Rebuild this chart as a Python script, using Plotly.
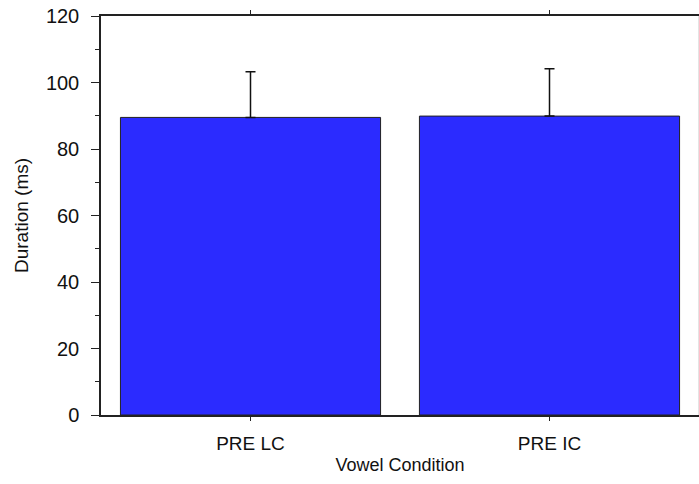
import plotly.graph_objects as go

# 数据
conditions = ["PRE LC", "PRE IC"]
duration_ms = [89.5, 89.9]
err_upper = [13.7, 14.2]
err_lower = [0, 0]

y_ticks = [0, 20, 40, 60, 80, 100, 120]

fig = go.Figure()

fig.add_trace(go.Bar(
    x=conditions, y=duration_ms,
    marker=dict(color="#2b2bff", line=dict(color="#222222", width=1)),
    error_y=dict(type="data", symmetric=False,
                 array=err_upper, arrayminus=err_lower,
                 color="#111111", thickness=1.5, width=5),
    hovertemplate="%{x}<br>%{y:.1f} ms<extra></extra>",
))

# 右侧灰色边框
fig.add_shape(type="line", xref="paper", yref="paper",
              x0=1, x1=1, y0=0, y1=1,
              line=dict(color="#c8c8c8", width=1))

font = dict(family="Arial, Liberation Sans, sans-serif", size=20, color="#111111")

fig.update_layout(
    width=699, height=484,
    margin=dict(l=101, r=0, t=16, b=69),
    plot_bgcolor="white", paper_bgcolor="white",
    bargap=0.13, showlegend=False,
    font=font,
)
fig.update_xaxes(
    showline=True, linecolor="#222222", linewidth=1.5,
    mirror="ticks", ticks="outside", ticklen=4, tickcolor="#222222",
    showgrid=False,
    tickfont=dict(size=19), ticklabelstandoff=6,
    title=dict(text="Vowel Condition", font=dict(size=18), standoff=6),
)
fig.update_yaxes(
    range=[0, 120], tickvals=y_ticks,
    showline=True, linecolor="#222222", linewidth=1.5,
    ticks="outside", ticklen=8, tickcolor="#222222",
    minor=dict(ticks="outside", ticklen=4, dtick=10, tickcolor="#222222"),
    ticklabelstandoff=8,
    showgrid=False, zeroline=False,
    title=dict(text="Duration (ms)", font=dict(size=19), standoff=12),
)

fig.write_html("out.html", config={"displayModeBar": False},
               post_script="document.body.style.margin='0';")
